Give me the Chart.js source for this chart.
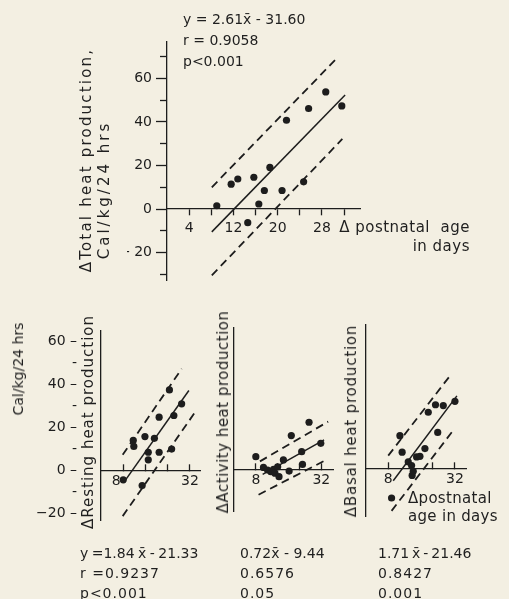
<!DOCTYPE html>
<html>
<head>
<meta charset="utf-8">
<script src="https://cdn.jsdelivr.net/npm/chart.js@4"></script>
<style>
  body { margin: 0; background: #f3efe2; }
  #page { position: relative; width: 509px; height: 599px; background: #f3efe2; overflow: hidden;
          font-family: "DejaVu Sans", sans-serif; color: #1f1f1f; }
  #page canvas { position: absolute; left: 0; top: 0; }
  .t { position: absolute; white-space: pre; font-size: 14px; line-height: 20px; }
  .r { position: absolute; white-space: nowrap; font-size: 15px; letter-spacing: 0.8px;
       transform: translate(-50%, -50%) rotate(-90deg); }
  .num { letter-spacing: 1px; }
</style>
</head>
<body>
<div id="page">
  <canvas id="total" width="509" height="599"></canvas>
  <canvas id="resting" width="509" height="599"></canvas>
  <canvas id="activity" width="509" height="599"></canvas>
  <canvas id="basal" width="509" height="599"></canvas>

  <div class="t" style="left:183px;top:9px;line-height:21px">y = 2.61x̄ - 31.60
r = 0.9058
p&lt;0.001</div>
  <div class="r" style="left:86px;top:160px;letter-spacing:2.2px">ΔTotal heat production,</div>
  <div class="r" style="left:104px;top:190px;letter-spacing:3px">Cal/kg/24 hrs</div>
  <div class="t" style="right:39px;top:218px;line-height:19px;text-align:right;font-size:15px;letter-spacing:0.5px">Δ postnatal  age
in days</div>

  <div class="r" style="left:18px;top:369px;font-size:14px;letter-spacing:0">Cal/kg/24 hrs</div>
  <div class="r" style="left:88px;top:422px;letter-spacing:1px">ΔResting heat production</div>
  <div class="r" style="left:223px;top:412px;letter-spacing:0.5px">ΔActivity heat production</div>
  <div class="r" style="left:351px;top:421px">ΔBasal heat production</div>
  <div class="t" style="left:408px;top:489px;line-height:18px;font-size:15px;letter-spacing:0.3px">Δpostnatal
age in days</div>

  <div class="t" style="left:80px;top:543px"><span style="word-spacing:-1px">y =1.84 x̄ - 21.33</span>
<span class="num">r =0.9237</span>
<span class="num">p&lt;0.001</span></div>
  <div class="t" style="left:240px;top:543px">0.72x̄ - 9.44
<span class="num">0.6576</span>
<span class="num">0.05</span></div>
  <div class="t" style="left:378px;top:543px"><span style="word-spacing:-1.5px">1.71 x̄ - 21.46</span>
<span class="num">0.8427</span>
<span class="num">0.001</span></div>
</div>

<script>
// Δ total heat production vs Δ postnatal age
const totalX = [9.0, 11.6, 12.8, 14.6, 15.7, 16.6, 17.6, 18.6, 20.8, 21.6, 24.7, 25.6, 28.7, 31.6]
const totalY = [1.5, 11.4, 13.8, -6.3, 14.6, 2.3, 8.5, 19.1, 8.5, 40.8, 12.5, 46.2, 53.8, 47.4]
const totalFitX = [8.1, 32.2], totalFitY = [-10.5, 52.4]
const totalUpX = [8.1, 30.4], totalUpY = [10, 68.5]
const totalLoX = [8.1, 31.7], totalLoY = [-30.5, 32.2]

// Δ resting heat production
const restX = [8.0, 11.6, 11.8, 14.8, 15.8, 17.0, 17.0, 19.2, 20.9, 20.9, 24.6, 25.4, 26.2, 29.0]
const restY = [-4.3, 14.0, 11.2, -7.0, 15.8, 8.5, 5.0, 15.0, 24.8, 8.5, 37.5, 10.0, 25.6, 31.0]
const restFitX = [8.2, 31.6], restFitY = [-5.5, 37.2]
const restUpX = [7.8, 29.0], restUpY = [7.3, 47.3]
const restLoX = [7.8, 34.4], restLoY = [-21.2, 28.2]

// Δ activity heat production
const actX = [8.0, 10.8, 12.3, 13.5, 14.5, 15.0, 16.0, 16.5, 18.1, 20.2, 21.0, 24.8, 25.1, 27.5, 31.8]
const actY = [6.2, 1.2, 0.0, -0.8, 0.3, -1.5, 1.5, -3.1, 4.7, -0.5, 16.0, 8.5, 2.6, 22.2, 12.4]
const actFitX = [10.5, 33.0], actFitY = [-2, 14]
const actUpX = [9.5, 34.5], actUpY = [4, 22.5]
const actLoX = [9.0, 33.5], actLoY = [-11.5, 4.5]

// Δ basal heat production
const basX = [9.2, 12.2, 13.0, 15.2, 16.4, 16.6, 17.0, 18.2, 19.4, 21.2, 22.4, 25.0, 25.8, 27.8, 32.0]
const basY = [-13.5, 15.5, 7.8, 3.3, 1.6, -3.0, -1.1, 5.6, 5.9, 9.5, 26.4, 29.9, 17.0, 29.5, 31.5]
const basFitX = [9.8, 32.7], basFitY = [-5.5, 34]
const basUpX = [8.0, 30.3], basUpY = [6.2, 43.5]
const basLoX = [9.2, 31.5], basLoY = [-19.5, 18.2]

// ticks
const totalXTicks = [4, 8, 12, 16, 20, 24, 28, 32]
const totalXLabels = [4, 12, 20, 28]
const totalYMajor = [-20, 0, 20, 40, 60]
const totalYMinor = [-30, -10, 10, 30, 50, 70]
const panelXTicks = [8, 16, 24, 32]
const panelXLabels = [8, 32]
const panelYTicks = [-20, -10, 0, 10, 20, 30, 40, 50, 60]
const panelYLabels = [-20, 0, 20, 40, 60]

const ink = '#1d1d1d'
const font = { family: 'DejaVu Sans', size: 14 }

const pts = (xs, ys) => xs.map((x, i) => ({ x, y: ys[i] }))
const setTicks = vals => scale => { scale.ticks = vals.map(v => ({ value: v })) }
const minus = v => String(v).replace('-', '−')

function sets(px, py, fx, fy, ux, uy, lx, ly) {
  return [
    { data: pts(px, py), pointRadius: 3.6, pointBackgroundColor: ink, pointBorderWidth: 0 },
    { data: pts(fx, fy), showLine: true, pointRadius: 0, borderColor: ink, borderWidth: 1.5 },
    { data: pts(ux, uy), showLine: true, pointRadius: 0, borderColor: ink, borderWidth: 1.8, borderDash: [8, 5] },
    { data: pts(lx, ly), showLine: true, pointRadius: 0, borderColor: ink, borderWidth: 1.8, borderDash: [8, 5] }
  ]
}

function xAxis(max, vals, labels, tickLength, padding, fmt = v => v) {
  return {
    type: 'linear', min: 0, max: max, position: { y: 0 },
    afterBuildTicks: setTicks(vals),
    grid: { drawOnChartArea: false, tickLength: tickLength, tickColor: ink, tickWidth: 1.3 },
    border: { color: ink, width: 1.3 },
    ticks: { color: ink, font, padding, autoSkip: false, maxRotation: 0,
             callback: v => labels.includes(v) ? fmt(v) : '' }
  }
}

function makeChart(id, datasets, scales, padding) {
  return new Chart(document.getElementById(id), {
    type: 'scatter',
    data: { datasets },
    options: {
      responsive: false, animation: false,
      layout: { padding },
      plugins: { legend: { display: false }, tooltip: { enabled: false } },
      scales
    }
  })
}

// top panel: y axis sits on the left edge (x = 0), fixed width so the plot area lands where it should
makeChart('total', sets(totalX, totalY, totalFitX, totalFitY, totalUpX, totalUpY, totalLoX, totalLoY), {
  x: xAxis(35, totalXTicks, totalXLabels, 6, 5),
  y: {
    min: -33, max: 77, position: 'left',
    afterBuildTicks: setTicks(totalYMajor),
    afterFit: s => { s.width = 40 },
    grid: { drawOnChartArea: false, tickLength: 11, tickColor: ink, tickWidth: 1.3 },
    border: { color: ink, width: 1.3 },
    ticks: { color: ink, font, padding: 4, callback: v => v < 0 ? '- ' + Math.abs(v) : v }
  },
  yMinor: {
    axis: 'y', min: -33, max: 77, position: { x: 0 },
    afterBuildTicks: setTicks(totalYMinor),
    grid: { drawOnChartArea: false, tickLength: 7, tickColor: ink, tickWidth: 1.3 },
    border: { display: false },
    ticks: { callback: () => '' }
  }
}, { left: 127, top: 41.5, right: 148.4, bottom: 318.2 })

// the "8" under the resting panel sits a little left of its tick
makeChart('resting', sets(restX, restY, restFitX, restFitY, restUpX, restUpY, restLoX, restLoY), {
  x: xAxis(35.6, panelXTicks, panelXLabels, -7, 9, v => v === 8 ? '8\u2002\u2002' : v),
  y: {
    min: -23, max: 65, position: 'left',
    afterBuildTicks: setTicks(panelYTicks),
    afterFit: s => { s.width = 70 },
    grid: { drawOnChartArea: false, drawTicks: false },
    border: { color: ink, width: 1.3 },
    ticks: { color: ink, font, padding: 24, autoSkip: false,
             callback: v => panelYLabels.includes(v) ? minus(v) + ' –' : '-' }
  }
}, { left: 31, top: 330.75, right: 309, bottom: 79 })

makeChart('activity', sets(actX, actY, actFitX, actFitY, actUpX, actUpY, actLoX, actLoY), {
  x: xAxis(36.5, panelXTicks, panelXLabels, -7, 9),
  y: {
    min: -19.5, max: 66, position: { x: 0 },
    grid: { drawOnChartArea: false, drawTicks: false },
    border: { color: ink, width: 1.3 },
    ticks: { display: false }
  }
}, { left: 234, top: 328.1, right: 175.4, bottom: 87.1 })

makeChart('basal', sets(basX, basY, basFitX, basFitY, basUpX, basUpY, basLoX, basLoY), {
  x: xAxis(36.3, panelXTicks, panelXLabels, -7, 9),
  y: {
    min: -22.3, max: 67, position: { x: 0 },
    grid: { drawOnChartArea: false, drawTicks: false },
    border: { color: ink, width: 1.3 },
    ticks: { display: false }
  }
}, { left: 366, top: 325, right: 42.1, bottom: 82.1 })
</script>
</body>
</html>
